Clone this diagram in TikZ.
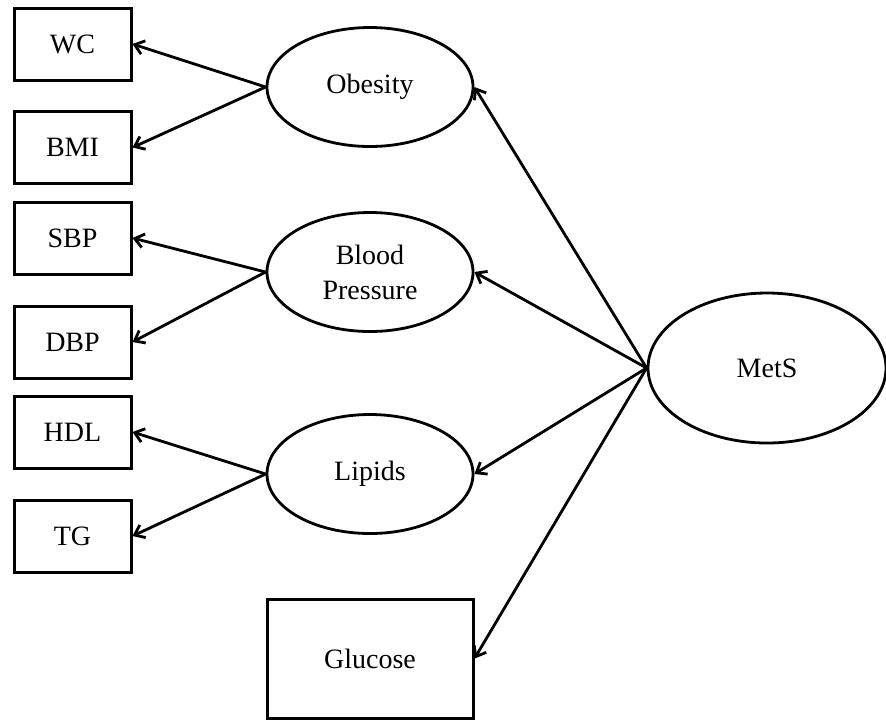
\documentclass[tikz,border=0pt]{standalone}
\usepackage{fontspec}
\setmainfont{Liberation Serif}
\usetikzlibrary{shapes.geometric, arrows.meta, positioning}
\tikzset{
    myarrow/.style={-{Straight Barb[length=4.5pt,width=7pt,line width=1.4pt]}, line width=1.4pt},
    box/.style={draw, rectangle, line width=1.5pt, font=\fontsize{14}{17.5}\selectfont, minimum width=58.5pt, minimum height=36pt, inner sep=0pt, align=center},
    latent/.style={draw, ellipse, line width=1.4pt, font=\fontsize{14}{17.5}\selectfont, minimum width=103pt, minimum height=59.5pt, inner sep=0pt, align=center}
}
\begin{document}
\begin{tikzpicture}[x=0.5pt, y=-0.5pt]
    \useasboundingbox (0,0) rectangle (886,720);
    % indicators
    \node (wc) [box] at (72.5,44) {WC};
    \node (bmi) [box] at (72.5,147.5) {BMI};
    \node (sbp) [box] at (72.5,238) {SBP};
    \node (dbp) [box] at (72.5,342) {DBP};
    \node (hdl) [box] at (72.5,432) {HDL};
    \node (tg) [box] at (72.5,536) {TG};
    % latent factors
    \node (obesity) [latent] at (370,87) {Obesity};
    \node (bp) [latent] at (370,272) {Blood\\Pressure};
    \node (lipids) [latent] at (370,474) {Lipids};
    \node (glucose) [box, minimum width=103pt, minimum height=59.5pt] at (370,658.5) {Glucose};
    \node (mets) [latent, minimum width=119pt, minimum height=75pt] at (767,368) {MetS};

    \draw [myarrow] (obesity.west) -- (wc.east);
    \draw [myarrow] (obesity.west) -- (bmi.east);
    \draw [myarrow] (bp.west) -- (sbp.east);
    \draw [myarrow] (bp.west) -- (dbp.east);
    \draw [myarrow] (lipids.west) -- (hdl.east);
    \draw [myarrow] (lipids.west) -- (tg.east);
    \draw [myarrow] (mets.west) -- (obesity.east);
    \draw [myarrow] (mets.west) -- (bp.east);
    \draw [myarrow] (mets.west) -- (lipids.east);
    \draw [myarrow] (mets.west) -- (glucose.east);
\end{tikzpicture}
\end{document}
